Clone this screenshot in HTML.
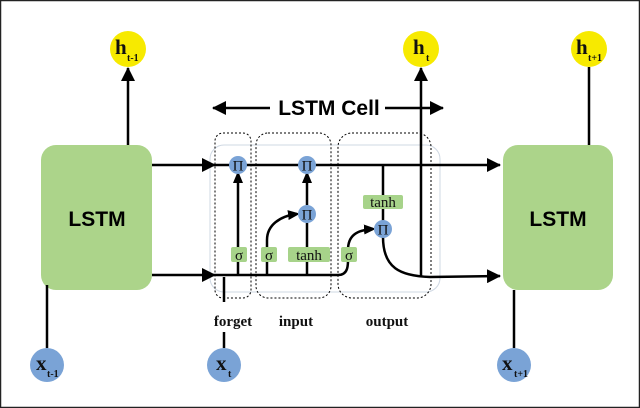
<!DOCTYPE html>
<html><head><meta charset="utf-8"><style>
html,body{margin:0;padding:0;background:#fff}
svg{display:block}
.s{font-family:"Liberation Serif",serif;}
.b{font-family:"Liberation Sans",sans-serif;font-weight:bold}
</style></head><body>
<svg width="640" height="408" viewBox="0 0 640 408" xmlns="http://www.w3.org/2000/svg">
<defs>
<marker id="a" markerWidth="10" markerHeight="10" refX="9" refY="5" orient="auto" markerUnits="userSpaceOnUse"><path d="M0,0 L12,5 L0,10 z" fill="#000"/></marker>
<marker id="A" markerWidth="14" markerHeight="14" refX="13" refY="7" orient="auto" markerUnits="userSpaceOnUse"><path d="M0,0 L14,7 L0,14 z" fill="#000"/></marker>
</defs>
<rect x="0.5" y="0.5" width="639" height="407" fill="#fff" stroke="#222" stroke-width="1.5"/>
<rect x="210" y="145" width="230" height="147" rx="14" fill="none" stroke="#cfd8e3" stroke-width="1"/>
<rect x="215" y="133" width="36" height="165" rx="8" fill="none" stroke="#000" stroke-width="1" stroke-dasharray="2,2"/>
<rect x="256" y="133" width="75" height="165" rx="12" fill="none" stroke="#000" stroke-width="1" stroke-dasharray="2,2"/>
<rect x="338" y="133" width="93" height="165" rx="14" fill="none" stroke="#000" stroke-width="1" stroke-dasharray="2,2"/>
<rect x="41" y="145" width="111" height="145" rx="15" fill="#acd48a"/>
<text x="97" y="226" class="b" font-size="21" text-anchor="middle">LSTM</text>
<rect x="503" y="145" width="110" height="145" rx="15" fill="#acd48a"/>
<text x="558" y="226" class="b" font-size="21" text-anchor="middle">LSTM</text>
<g stroke="#000" stroke-width="2.5" fill="none">
<line x1="128" y1="145" x2="128" y2="68" marker-end="url(#A)"/>
<line x1="47" y1="285" x2="47" y2="348"/>
<line x1="589" y1="67" x2="589" y2="145"/>
<line x1="514" y1="290" x2="514" y2="348"/>
<line x1="152" y1="165" x2="215" y2="165" marker-end="url(#A)"/>
<line x1="215" y1="165" x2="500" y2="165" marker-end="url(#A)"/>
<line x1="152" y1="275" x2="215" y2="275" marker-end="url(#A)"/>
<path d="M215,275 L338,275 C350,275 348,262 348,250 C348,236 356,230 373,229" marker-end="url(#a)"/>
<line x1="238" y1="275" x2="238" y2="174" marker-end="url(#a)"/>
<path d="M267,275 L267,240 C267,225 280,216 297,214" marker-end="url(#a)"/>
<line x1="307" y1="275" x2="307" y2="223"/>
<line x1="307" y1="205" x2="307" y2="174" marker-end="url(#a)"/>
<line x1="383" y1="165" x2="383" y2="221"/>
<path d="M383,237 C383,268 400,276 430,277 L500,276" marker-end="url(#A)"/>
<line x1="421" y1="277" x2="421" y2="68" marker-end="url(#A)"/>
<line x1="224" y1="277" x2="224" y2="302"/>
<line x1="224" y1="332" x2="224" y2="348"/>
<line x1="270" y1="108" x2="213" y2="108" marker-end="url(#A)"/>
<line x1="385" y1="108" x2="443" y2="108" marker-end="url(#A)"/>
</g>
<text x="329" y="115" class="b" font-size="21" text-anchor="middle">LSTM Cell</text>
<g fill="#a7d38a">
<rect x="231" y="247" width="16" height="15" rx="2"/>
<rect x="261" y="247" width="16" height="15" rx="2"/>
<rect x="288" y="247" width="42" height="15" rx="2"/>
<rect x="341" y="247" width="16" height="15" rx="2"/>
<rect x="363" y="195" width="40" height="14" rx="2"/>
</g>
<g class="s" font-size="15" text-anchor="middle" fill="#111">
<text x="239" y="260">σ</text><text x="269" y="260">σ</text><text x="309" y="260">tanh</text><text x="349" y="260">σ</text><text x="383" y="207">tanh</text>
</g>
<g fill="#7aa3d6">
<circle cx="238" cy="165" r="9"/><circle cx="307" cy="165" r="9"/><circle cx="307" cy="214" r="9"/><circle cx="383" cy="229" r="9"/>
</g>
<g class="s" font-size="15" text-anchor="middle" fill="#111">
<text x="238" y="170.5">Π</text><text x="307" y="170.5">Π</text><text x="307" y="219.5">Π</text><text x="383" y="234.5">Π</text>
</g>
<g class="s" font-size="15" font-weight="bold" text-anchor="middle" fill="#111">
<text x="233" y="326">forget</text><text x="296" y="326">input</text><text x="387" y="326">output</text>
</g>
<g fill="#f7ea00"><circle cx="128" cy="49" r="18"/><circle cx="421" cy="49" r="18"/><circle cx="589" cy="49" r="18"/></g>
<g fill="#7aa3d6"><circle cx="47" cy="365" r="17"/><circle cx="224" cy="365" r="17"/><circle cx="514" cy="365" r="17"/></g>
<g class="s" font-weight="bold" fill="#111">
<text x="115" y="54" font-size="21">h</text><text x="127" y="61" font-size="10">t-1</text>
<text x="413" y="54" font-size="21">h</text><text x="426" y="61" font-size="10">t</text>
<text x="576" y="54" font-size="21">h</text><text x="588" y="61" font-size="10">t+1</text>
<text x="36" y="370" font-size="21">x</text><text x="47" y="377" font-size="10">t-1</text>
<text x="216" y="370" font-size="21">x</text><text x="228" y="377" font-size="10">t</text>
<text x="502" y="370" font-size="21">x</text><text x="514" y="377" font-size="10">t+1</text>
</g>
</svg>
</body></html>
